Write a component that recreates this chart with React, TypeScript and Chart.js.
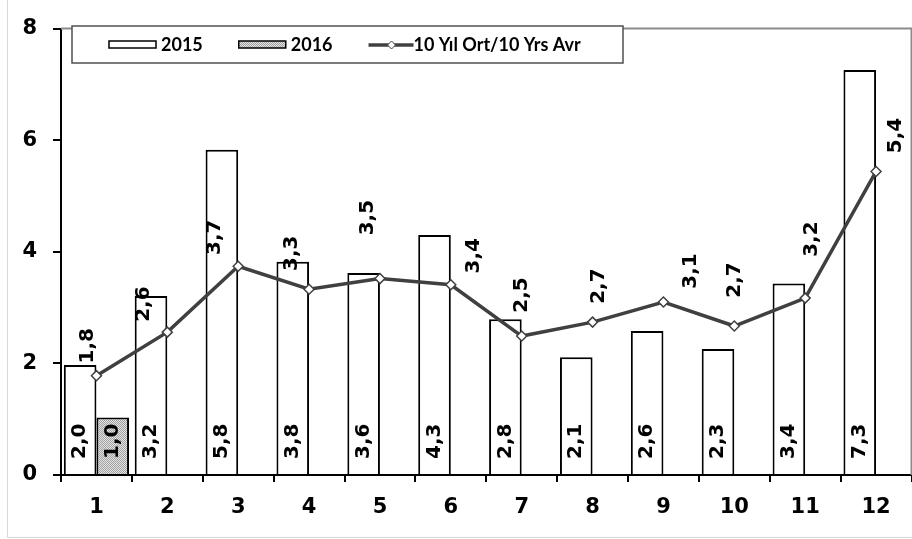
import React, { useEffect, useRef } from "react";
import { Chart, registerables } from "chart.js";

Chart.register(...registerables);

// ---- data ----
const months = ["1", "2", "3", "4", "5", "6", "7", "8", "9", "10", "11", "12"];
const series2015Label = "2015";
const series2016Label = "2016";
const seriesAvgLabel = "10 Yıl Ort/10 Yrs Avr";
const values2015 = [1.97, 3.21, 5.83, 3.82, 3.62, 4.3, 2.79, 2.11, 2.58, 2.26, 3.43, 7.26];
const values2016: (number | null)[] = [1.03, null, null, null, null, null, null, null, null, null, null, null];
const valuesAvg = [1.78, 2.56, 3.74, 3.33, 3.52, 3.41, 2.49, 2.74, 3.1, 2.67, 3.17, 5.44];
const yTicks = [0, 2, 4, 6, 8];

// ---- layout / style (not data) ----
const avgLabelOffsets: [number, number][] = [
  [-9, -30], [-24, -28], [-23, -29], [-17, -36], [-12, -61], [23, -29],
  [0, -41], [6, -36], [27, -31], [0, -46], [7, -59], [20, -36],
];
const FONT = '"DejaVu Sans"';
const LEGEND_FONT = "Lato";
const LINE_COLOR = "#404040";
const W = 918;
const H = 539;

const fmt = (v: number) => v.toFixed(1).replace(".", ",");

function makePattern(ctx: CanvasRenderingContext2D): CanvasPattern | string {
  const pc = document.createElement("canvas");
  pc.width = 2;
  pc.height = 2;
  const p = pc.getContext("2d");
  if (!p) return "#c6c6c6";
  p.fillStyle = "#e4e4e4";
  p.fillRect(0, 0, 2, 2);
  p.fillStyle = "#a0a0a0";
  p.fillRect(0, 0, 1, 1);
  p.fillRect(1, 1, 1, 1);
  return ctx.createPattern(pc, "repeat") || "#c6c6c6";
}

const framePlugin = {
  id: "frame",
  beforeDraw(chart: any) {
    const ctx = chart.ctx as CanvasRenderingContext2D;
    ctx.save();
    ctx.fillStyle = "#ffffff";
    ctx.fillRect(0, 0, chart.width, chart.height);
    ctx.strokeStyle = "#d9d9d9";
    ctx.lineWidth = 1;
    ctx.strokeRect(7.5, -5, chart.width + 20, 542.5);
    ctx.restore();
  },
  beforeDatasetsDraw(chart: any) {
    const { ctx, chartArea } = chart;
    ctx.save();
    ctx.strokeStyle = "#8c8c8c";
    ctx.lineWidth = 2;
    ctx.beginPath();
    ctx.moveTo(chartArea.left, chartArea.top);
    ctx.lineTo(chartArea.right, chartArea.top);
    ctx.lineTo(chartArea.right, chartArea.bottom);
    ctx.stroke();
    ctx.restore();
  },
};

const labelPlugin = {
  id: "valueLabels",
  afterDatasetsDraw(chart: any) {
    const ctx = chart.ctx as CanvasRenderingContext2D;
    ctx.save();
    ctx.fillStyle = "#000";
    ctx.font = `bold 20px ${FONT}`;
    [0, 1].forEach((di) => {
      const meta = chart.getDatasetMeta(di);
      const data = chart.data.datasets[di].data;
      meta.data.forEach((el: any, i: number) => {
        const v = data[i];
        if (v === null || v === undefined) return;
        ctx.save();
        ctx.translate(el.x, el.base - 15);
        ctx.rotate(-Math.PI / 2);
        ctx.textAlign = "left";
        ctx.textBaseline = "middle";
        ctx.fillText(fmt(v), 0, 0);
        ctx.restore();
      });
    });
    const lm = chart.getDatasetMeta(2);
    const ld = chart.data.datasets[2].data;
    lm.data.forEach((el: any, i: number) => {
      const v = ld[i];
      if (v === null || v === undefined) return;
      const [dx, dy] = avgLabelOffsets[i] || [0, -35];
      ctx.save();
      ctx.translate(el.x + dx, el.y + dy);
      ctx.rotate(-Math.PI / 2);
      ctx.textAlign = "center";
      ctx.textBaseline = "middle";
      ctx.fillText(fmt(v), 0, 0);
      ctx.restore();
    });
    ctx.restore();
  },
};

const legendPlugin = {
  id: "boxLegend",
  afterDraw(chart: any) {
    const ctx = chart.ctx as CanvasRenderingContext2D;
    const ds = chart.data.datasets;
    ctx.save();
    ctx.fillStyle = "#ffffff";
    ctx.fillRect(72, 26, 551, 37);
    ctx.strokeStyle = "#505050";
    ctx.lineWidth = 1.5;
    ctx.strokeRect(72, 26, 551, 37);
    const cy = 45;
    ctx.font = `bold 18px ${LEGEND_FONT}`;
    ctx.textBaseline = "middle";
    ctx.textAlign = "left";
    let x = 109;
    [0, 1, 2].forEach((di) => {
      const d = ds[di];
      if (di < 2) {
        ctx.fillStyle = d.backgroundColor;
        ctx.fillRect(x, cy - 4, 47, 7);
        ctx.strokeStyle = "#000";
        ctx.lineWidth = 1.5;
        ctx.strokeRect(x, cy - 4, 47, 7);
      } else {
        ctx.strokeStyle = LINE_COLOR;
        ctx.lineWidth = 3.5;
        ctx.beginPath();
        ctx.moveTo(x, cy);
        ctx.lineTo(x + 45, cy);
        ctx.stroke();
        const mx = x + 23;
        ctx.beginPath();
        ctx.moveTo(mx, cy - 4);
        ctx.lineTo(mx + 4, cy);
        ctx.lineTo(mx, cy + 4);
        ctx.lineTo(mx - 4, cy);
        ctx.closePath();
        ctx.fillStyle = "#fff";
        ctx.fill();
        ctx.lineWidth = 1;
        ctx.stroke();
      }
      const tx = x + (di < 2 ? 52 : 45);
      ctx.fillStyle = "#000";
      ctx.fillText(d.label, tx, cy);
      x = tx + ctx.measureText(d.label).width + 36;
    });
    ctx.restore();
  },
};

export default function App() {
  const ref = useRef<HTMLCanvasElement | null>(null);

  useEffect(() => {
    const canvas = ref.current;
    if (!canvas) return;
    const ctx = canvas.getContext("2d");
    if (!ctx) return;
    const pattern = makePattern(ctx);

    const chart = new Chart(ctx, {
      type: "bar",
      data: {
        labels: months,
        datasets: [
          {
            type: "bar",
            label: series2015Label,
            data: values2015,
            backgroundColor: "#ffffff",
            borderColor: "#000000",
            borderWidth: 2,
            categoryPercentage: 0.92,
            barPercentage: 1.0,
            order: 1,
          },
          {
            type: "bar",
            label: series2016Label,
            data: values2016,
            backgroundColor: pattern as any,
            borderColor: "#000000",
            borderWidth: 2,
            categoryPercentage: 0.92,
            barPercentage: 1.0,
            order: 2,
          },
          {
            type: "line",
            label: seriesAvgLabel,
            data: valuesAvg,
            borderColor: LINE_COLOR,
            borderWidth: 3.5,
            pointStyle: "rectRot",
            pointRadius: 5,
            pointBorderWidth: 1.5,
            pointBackgroundColor: "#ffffff",
            pointBorderColor: LINE_COLOR,
            tension: 0,
            order: 0,
          } as any,
        ],
      },
      options: {
        responsive: false,
        animation: false,
        devicePixelRatio: 1,
        layout: { padding: { top: 16, left: 0, right: 0, bottom: 0 } },
        plugins: {
          legend: { display: false },
          tooltip: { enabled: false },
        },
        scales: {
          x: {
            offset: true,
            grid: {
              offset: true,
              drawOnChartArea: false,
              drawTicks: true,
              tickLength: 7,
              color: "#000",
              lineWidth: 2,
            },
            border: { display: true, color: "#000", width: 2 },
            ticks: {
              color: "#000",
              font: { family: FONT, size: 21, weight: "bold" },
              padding: 13,
              maxRotation: 0,
              autoSkip: false,
            },
            afterFit: (s: any) => {
              s.height = 64;
            },
          },
          y: {
            min: 0,
            max: 8,
            afterBuildTicks: (s: any) => {
              s.ticks = yTicks.map((v) => ({ value: v }));
            },
            grid: {
              drawOnChartArea: false,
              drawTicks: true,
              tickLength: 8,
              color: "#000",
              lineWidth: 2,
            },
            border: { display: true, color: "#000", width: 2 },
            ticks: {
              color: "#000",
              font: { family: FONT, size: 21, weight: "bold" },
              padding: 16,
            },
            afterFit: (s: any) => {
              s.width = 61;
            },
          },
        },
      } as any,
      plugins: [framePlugin, labelPlugin, legendPlugin],
    });
    return () => chart.destroy();
  }, []);

  return (
    <div
      style={{
        position: "fixed",
        left: 0,
        top: 0,
        width: 912,
        height: 539,
        overflow: "hidden",
        background: "#fff",
      }}
    >
      <canvas
        ref={ref}
        width={W}
        height={H}
        style={{ display: "block", width: W, height: H }}
      />
    </div>
  );
}
